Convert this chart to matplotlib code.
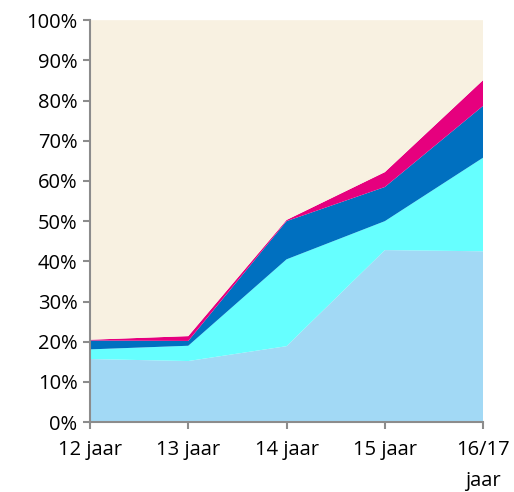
import numpy as np
import matplotlib.pyplot as plt
from matplotlib.ticker import PercentFormatter

categories = ["12 jaar", "13 jaar", "14 jaar", "15 jaar", "16/17\njaar"]
light_blue = [15.7, 15.2, 18.9, 42.8, 42.5]
cyan = [2.4, 3.8, 21.6, 7.2, 23.3]
blue = [2.2, 1.2, 9.5, 8.5, 12.9]
magenta = [0.2, 1.2, 0.3, 3.7, 6.4]
cream = [100 - a - b - c - d for a, b, c, d in zip(light_blue, cyan, blue, magenta)]

colors = ["#A2D9F5", "#66FFFF", "#0070C0", "#E6007E", "#F8F1E1"]

plt.rcParams["font.family"] = ["Open Sans", "DejaVu Sans"]

fig, ax = plt.subplots(figsize=(5.14, 4.92), dpi=100)
fig.subplots_adjust(left=0.175, right=0.94, top=0.959, bottom=0.142)

x = np.arange(len(categories))
ax.stackplot(x, light_blue, cyan, blue, magenta, cream, colors=colors, linewidth=0)

ax.set_xlim(0, len(categories) - 1)
ax.set_ylim(0, 100)
ax.set_yticks(np.arange(0, 101, 10))
ax.yaxis.set_major_formatter(PercentFormatter(decimals=0))
ax.set_xticks(x)
ax.set_xticklabels(categories, linespacing=1.75)

for side in ["top", "right"]:
    ax.spines[side].set_visible(False)
for side in ["left", "bottom"]:
    ax.spines[side].set_color("#8C8C8C")
    ax.spines[side].set_linewidth(1.5)
ax.tick_params(axis="both", colors="#8C8C8C", length=5, width=1.5,
               labelsize=14.5, labelcolor="black")
ax.tick_params(axis="x", pad=8)
ax.tick_params(axis="y", pad=4)

fig.savefig("out.png", dpi=100)
